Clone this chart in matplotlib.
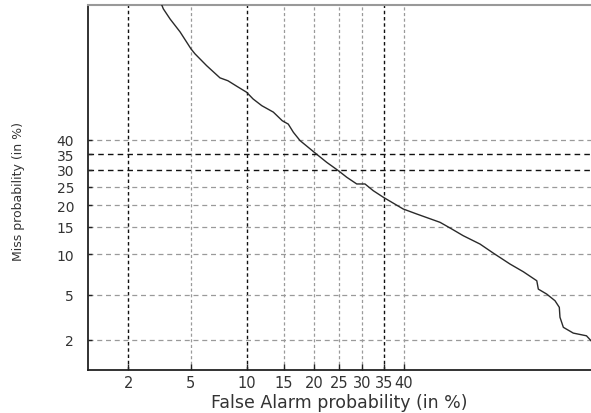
import numpy as np
import matplotlib
matplotlib.use("Agg")
import matplotlib.pyplot as plt
from statistics import NormalDist

# DET curve values (percent)
false_alarm = [3.2, 3.40, 3.75, 4.31, 5.01, 5.28, 6.15, 7.28, 8.03, 8.92, 10.0, 10.77,
               11.86, 13.42, 14.73, 15.65, 16.46, 17.56, 20.07, 22.42, 24.77, 26.53,
               28.71, 30.57, 32.5, 34.9, 39.8, 43.25, 49.3, 52.35, 55.3, 59.6, 62.9,
               66.97, 70.06, 73.04, 73.37, 75.14, 76.82, 77.67, 77.8, 78.45, 80.3,
               82.6, 83.35]
miss = [84.5, 82.2, 79.7, 76.3, 71.3, 69.8, 66.0, 61.9, 60.9, 59.0, 56.9, 54.5,
        52.1, 49.8, 46.7, 45.5, 42.6, 39.7, 35.7, 32.4, 29.74, 27.73,
        25.75, 25.75, 23.83, 22.04, 19.05, 17.85, 15.96, 14.55, 13.22, 11.68, 10.17,
        8.52, 7.49, 6.41, 5.52, 5.04, 4.45, 3.92, 3.22, 2.62, 2.32,
        2.19, 1.97]

x_ticks = [2, 5, 10, 15, 20, 25, 30, 35, 40]
y_ticks = [2, 5, 10, 15, 20, 25, 30, 35, 40]
x_dark = [2, 10, 35]
y_dark = [30, 35]

_nd = NormalDist()
_ppf = np.vectorize(lambda p: _nd.inv_cdf(p), otypes=[float])
_cdf = np.vectorize(lambda z: _nd.cdf(z), otypes=[float])


def probit(p):
    p = np.clip(np.asarray(p, dtype=float) / 100.0, 1e-9, 1 - 1e-9)
    return _ppf(p)


def inv_probit(z):
    return 100.0 * _cdf(np.asarray(z, dtype=float))


plt.rcParams['font.family'] = ['DejaVu Sans']

fig = plt.figure(figsize=(5.91, 4.14), dpi=100)
ax = fig.add_axes([0.1489, 0.1046, 0.8511, 0.881])
ax.set_xscale('function', functions=(probit, inv_probit))
ax.set_yscale('function', functions=(probit, inv_probit))

# grid lines
for v in x_ticks:
    dark = v in x_dark
    ax.axvline(v, color='#111111' if dark else '#9a9a9a', lw=1.0 if dark else 0.9,
               dashes=(2.5, 2.0), zorder=1)
for v in y_ticks:
    dark = v in y_dark
    ax.axhline(v, color='#111111' if dark else '#9a9a9a', lw=1.0 if dark else 0.9,
               dashes=(4.0, 3.0), zorder=1)

ax.plot(false_alarm, miss, color='#2a2a2a', lw=1.0, zorder=3)

ax.set_xlim(1.025, 83.35)
ax.set_ylim(1.015, 83.1)
ax.set_xticks(x_ticks)
ax.set_xticklabels([str(v) for v in x_ticks])
ax.set_yticks(y_ticks)
ax.set_yticklabels([str(v) for v in y_ticks])
ax.minorticks_off()

ax.tick_params(axis='x', direction='in', length=4, width=1, pad=4, labelsize=10.5,
               colors='#222222')
ax.tick_params(axis='y', direction='in', length=3, width=1, pad=10, labelsize=10,
               colors='#222222')
for lbl in ax.get_xticklabels() + ax.get_yticklabels():
    lbl.set_color('#333333')

for s in ['left', 'bottom']:
    ax.spines[s].set_color('#222222')
    ax.spines[s].set_linewidth(1.3)
ax.spines['top'].set_color('#999999')
ax.spines['top'].set_linewidth(1.5)
ax.spines['right'].set_visible(False)

ax.set_xlabel('False Alarm probability (in %)', fontsize=12.5, color='#333333', labelpad=2)
ax.set_ylabel('Miss probability (in %)', fontsize=9, color='#333333')
ax.yaxis.set_label_coords(-0.126, 0.49)

fig.savefig('out.png', dpi=100)
